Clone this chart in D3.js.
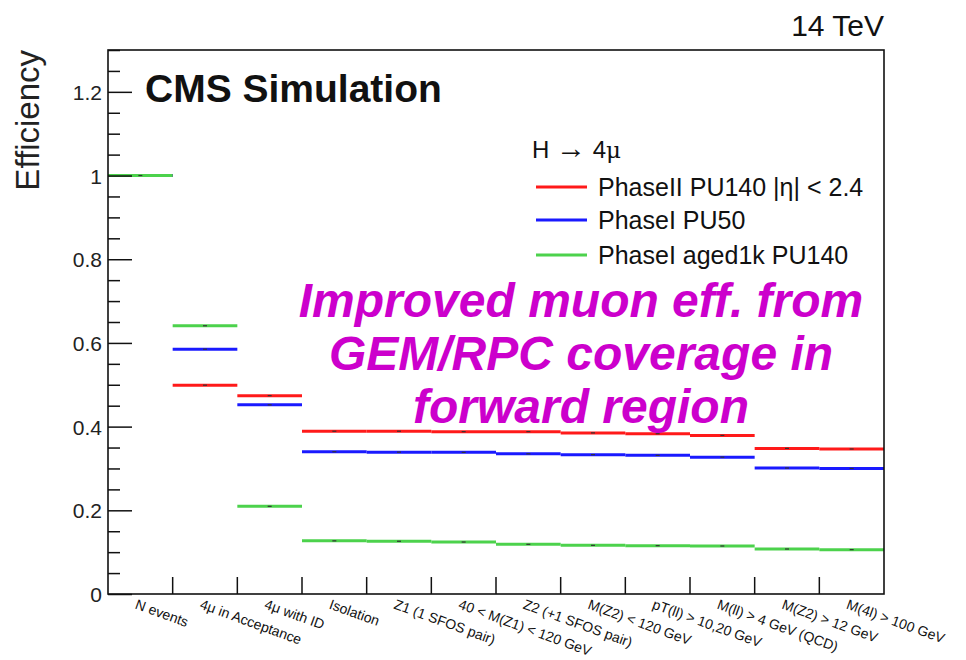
<!DOCTYPE html>
<html>
<head>
<meta charset="utf-8">
<script src="https://cdn.jsdelivr.net/npm/d3@7"></script>
<style>
  body { margin: 0; background: #fff; }
  svg { font-family: "Liberation Sans", Arial, Helvetica, sans-serif; }
</style>
</head>
<body>
<figure id="eff" style="margin:0"></figure>
<script>
// selection steps
const categories = [
  "N events", "4\u03bc in Acceptance", "4\u03bc with ID", "Isolation",
  "Z1 (1 SFOS pair)", "40 < M(Z1) < 120 GeV", "Z2 (+1 SFOS pair)",
  "M(Z2) < 120 GeV", "pT(ll) > 10,20 GeV", "M(ll) > 4 GeV (QCD)",
  "M(Z2) > 12 GeV", "M(4l) > 100 GeV"
];

// efficiencies per step
const phase2PU140 = [1.0, 0.499, 0.474, 0.389, 0.389, 0.388, 0.388, 0.385, 0.383, 0.379, 0.348, 0.3465];
const phase1PU50 = [1.0, 0.585, 0.452, 0.340, 0.339, 0.3385, 0.335, 0.333, 0.3313, 0.327, 0.301, 0.300];
const phase1Aged = [1.0, 0.641, 0.2095, 0.127, 0.126, 0.1242, 0.1187, 0.1163, 0.1155, 0.1147, 0.1075, 0.106];

const yMajorTicks = [0, 0.2, 0.4, 0.6, 0.8, 1, 1.2];
const legendLabels = ["PhaseII PU140 |\u03b7| < 2.4", "PhaseI PU50", "PhaseI aged1k PU140"];
const colors = ["#ff1a1a", "#1a1aff", "#4cd24c"];

const width = 966, height = 660;
const plotLeft = 108, plotRight = 884, plotTop = 50, plotBottom = 594;

const svg = d3.select("figure#eff")
  .append("svg")
  .attr("width", width)
  .attr("height", height);

const x = d3.scaleBand()
  .domain(categories)
  .range([plotLeft, plotRight])
  .padding(0);

const y = d3.scaleLinear()
  .domain([0, 1.3])
  .range([plotBottom, plotTop]);

// series lines
const series = [phase2PU140, phase1PU50, phase1Aged];
series.forEach((vals, i) => {
  const g = svg.append("g");
  g.selectAll("line.step")
    .data(vals)
    .enter()
    .append("line")
    .attr("x1", (d, j) => x(categories[j]))
    .attr("x2", (d, j) => x(categories[j]) + x.bandwidth())
    .attr("y1", d => y(d))
    .attr("y2", d => y(d))
    .attr("stroke", colors[i])
    .attr("stroke-width", 3);
  // small markers at bin centres
  g.selectAll("line.mark")
    .data(vals)
    .enter()
    .append("line")
    .attr("x1", (d, j) => x(categories[j]) + x.bandwidth() / 2 - 2)
    .attr("x2", (d, j) => x(categories[j]) + x.bandwidth() / 2 + 2)
    .attr("y1", d => y(d))
    .attr("y2", d => y(d))
    .attr("stroke", "#333")
    .attr("stroke-width", 1.2);
});

// y axis major + minor ticks (inward)
const minorTicks = d3.range(0, 1.3001, 0.05).filter(v => !yMajorTicks.some(m => Math.abs(m - v) < 1e-6));

svg.append("g")
  .attr("transform", "translate(" + plotLeft + ",0)")
  .call(d3.axisRight(y).tickValues(minorTicks).tickSize(12).tickSizeOuter(0).tickFormat(""))
  .call(g => g.select(".domain").remove())
  .selectAll("line").attr("stroke", "#111").attr("stroke-width", 1.5);

const yAx = svg.append("g")
  .attr("transform", "translate(" + plotLeft + ",0)")
  .call(d3.axisRight(y).tickValues(yMajorTicks).tickSize(24).tickSizeOuter(0).tickFormat(d3.format("~g")));
yAx.select(".domain").remove();
yAx.selectAll("line").attr("stroke", "#111").attr("stroke-width", 1.5);
yAx.selectAll("text")
  .attr("x", -6)
  .attr("text-anchor", "end")
  .attr("dy", "0.36em")
  .attr("font-size", 21)
  .attr("font-family", "'Liberation Sans', Arial, sans-serif")
  .attr("fill", "#222");

// x ticks at bin boundaries
svg.append("g").selectAll("line")
  .data(categories.slice(1))
  .enter()
  .append("line")
  .attr("x1", d => x(d))
  .attr("x2", d => x(d))
  .attr("y1", plotBottom)
  .attr("y2", plotBottom - 17)
  .attr("stroke", "#111")
  .attr("stroke-width", 1.5);

// x labels, rotated
svg.append("g").selectAll("text")
  .data(categories)
  .enter()
  .append("text")
  .attr("transform", d => "translate(" + (x(d) + x.bandwidth() / 2 - 2) + "," + (plotBottom + 3) + ") rotate(20)")
  .attr("dy", "0.85em")
  .attr("font-size", 14)
  .attr("fill", "#111")
  .text(d => d);

// frame
svg.append("rect")
  .attr("x", plotLeft)
  .attr("y", plotTop)
  .attr("width", plotRight - plotLeft)
  .attr("height", plotBottom - plotTop)
  .attr("fill", "none")
  .attr("stroke", "#111")
  .attr("stroke-width", 1.6);

// texts
svg.append("text")
  .attr("transform", "translate(39," + plotTop + ") rotate(-90)")
  .attr("text-anchor", "end")
  .attr("font-size", 33)
  .attr("fill", "#222")
  .text("Efficiency");

svg.append("text")
  .attr("x", plotRight)
  .attr("y", 36)
  .attr("text-anchor", "end")
  .attr("font-size", 30)
  .attr("fill", "#111")
  .text("14 TeV");

svg.append("text")
  .attr("x", 145)
  .attr("y", 102)
  .attr("font-size", 39)
  .attr("font-weight", "bold")
  .attr("fill", "#111")
  .text("CMS Simulation");

// legend
const head = svg.append("text")
  .attr("x", 532)
  .attr("y", 158)
  .attr("font-size", 24)
  .attr("fill", "#111");
head.append("tspan").text("H ");
head.append("tspan").attr("font-size", 30).text("\u2192");
head.append("tspan").text(" 4");
head.append("tspan").attr("font-family", "'DejaVu Serif', serif").attr("font-size", 23).text("\u03bc");

const legY = [187, 220, 255];
const leg = svg.append("g").selectAll("g")
  .data(legendLabels)
  .enter()
  .append("g");
leg.append("line")
  .attr("x1", 536)
  .attr("x2", 587)
  .attr("y1", (d, i) => legY[i])
  .attr("y2", (d, i) => legY[i])
  .attr("stroke", (d, i) => colors[i])
  .attr("stroke-width", 3);
leg.append("text")
  .attr("x", 598)
  .attr("y", (d, i) => legY[i] + 9)
  .attr("font-size", 25)
  .attr("fill", "#111")
  .text(d => d);

// annotation
const note = ["Improved muon eff. from", "GEM/RPC coverage in", "forward region"];
svg.append("g").selectAll("text")
  .data(note)
  .enter()
  .append("text")
  .attr("x", 581)
  .attr("y", (d, i) => [317, 370, 423][i])
  .attr("text-anchor", "middle")
  .attr("font-size", 48)
  .attr("font-weight", "bold")
  .attr("font-style", "italic")
  .attr("fill", "#cc00cc")
  .text(d => d);
</script>
</body>
</html>
